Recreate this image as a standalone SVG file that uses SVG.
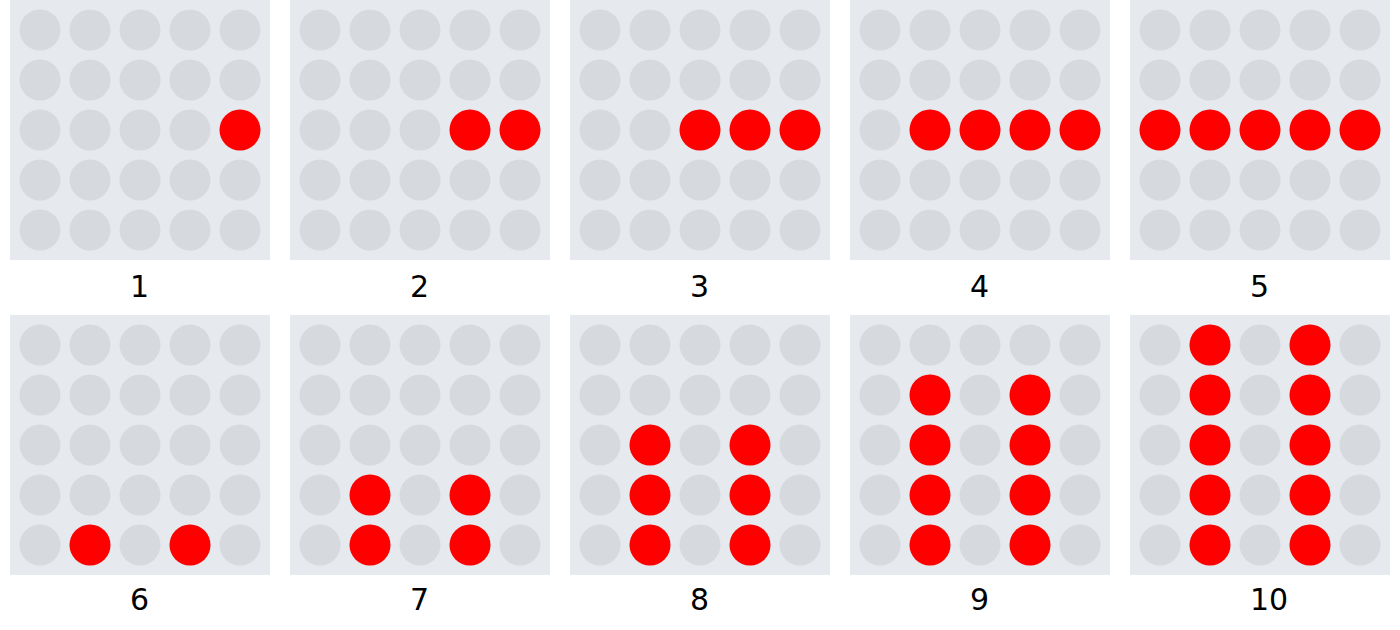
<svg xmlns="http://www.w3.org/2000/svg" width="1400" height="630" viewBox="0 0 1400 630">
<style>
.bg{fill:#e6e9ee}
.d{fill:#d6d9de}
.r{fill:#ff0000}
.lb{font-family:"DejaVu Sans",sans-serif;font-size:30px;fill:#000}
</style>
<defs>
<g id="grid">
<rect class="bg" x="0" y="0" width="260" height="260"/>
<g class="d">
<circle cx="30" cy="30" r="20.5"/><circle cx="80" cy="30" r="20.5"/><circle cx="130" cy="30" r="20.5"/><circle cx="180" cy="30" r="20.5"/><circle cx="230" cy="30" r="20.5"/>
<circle cx="30" cy="80" r="20.5"/><circle cx="80" cy="80" r="20.5"/><circle cx="130" cy="80" r="20.5"/><circle cx="180" cy="80" r="20.5"/><circle cx="230" cy="80" r="20.5"/>
<circle cx="30" cy="130" r="20.5"/><circle cx="80" cy="130" r="20.5"/><circle cx="130" cy="130" r="20.5"/><circle cx="180" cy="130" r="20.5"/><circle cx="230" cy="130" r="20.5"/>
<circle cx="30" cy="180" r="20.5"/><circle cx="80" cy="180" r="20.5"/><circle cx="130" cy="180" r="20.5"/><circle cx="180" cy="180" r="20.5"/><circle cx="230" cy="180" r="20.5"/>
<circle cx="30" cy="230" r="20.5"/><circle cx="80" cy="230" r="20.5"/><circle cx="130" cy="230" r="20.5"/><circle cx="180" cy="230" r="20.5"/><circle cx="230" cy="230" r="20.5"/>
</g>
</g>
<circle id="rd" class="r" r="20.5"/>
</defs>

<g id="panel1" transform="translate(10,0)">
<use href="#grid"/>
<use href="#rd" x="230" y="130"/>
<text class="lb" x="120" y="297">1</text>
</g>
<g id="panel2" transform="translate(290,0)">
<use href="#grid"/>
<use href="#rd" x="180" y="130"/><use href="#rd" x="230" y="130"/>
<text class="lb" x="120" y="297">2</text>
</g>
<g id="panel3" transform="translate(570,0)">
<use href="#grid"/>
<use href="#rd" x="130" y="130"/><use href="#rd" x="180" y="130"/><use href="#rd" x="230" y="130"/>
<text class="lb" x="120" y="297">3</text>
</g>
<g id="panel4" transform="translate(850,0)">
<use href="#grid"/>
<use href="#rd" x="80" y="130"/><use href="#rd" x="130" y="130"/><use href="#rd" x="180" y="130"/><use href="#rd" x="230" y="130"/>
<text class="lb" x="120" y="297">4</text>
</g>
<g id="panel5" transform="translate(1130,0)">
<use href="#grid"/>
<use href="#rd" x="30" y="130"/><use href="#rd" x="80" y="130"/><use href="#rd" x="130" y="130"/><use href="#rd" x="180" y="130"/><use href="#rd" x="230" y="130"/>
<text class="lb" x="120" y="297">5</text>
</g>

<g id="panel6" transform="translate(10,315)">
<use href="#grid"/>
<use href="#rd" x="80" y="230"/><use href="#rd" x="180" y="230"/>
<text class="lb" x="120" y="295">6</text>
</g>
<g id="panel7" transform="translate(290,315)">
<use href="#grid"/>
<use href="#rd" x="80" y="180"/><use href="#rd" x="180" y="180"/>
<use href="#rd" x="80" y="230"/><use href="#rd" x="180" y="230"/>
<text class="lb" x="120" y="295">7</text>
</g>
<g id="panel8" transform="translate(570,315)">
<use href="#grid"/>
<use href="#rd" x="80" y="130"/><use href="#rd" x="180" y="130"/>
<use href="#rd" x="80" y="180"/><use href="#rd" x="180" y="180"/>
<use href="#rd" x="80" y="230"/><use href="#rd" x="180" y="230"/>
<text class="lb" x="120" y="295">8</text>
</g>
<g id="panel9" transform="translate(850,315)">
<use href="#grid"/>
<use href="#rd" x="80" y="80"/><use href="#rd" x="180" y="80"/>
<use href="#rd" x="80" y="130"/><use href="#rd" x="180" y="130"/>
<use href="#rd" x="80" y="180"/><use href="#rd" x="180" y="180"/>
<use href="#rd" x="80" y="230"/><use href="#rd" x="180" y="230"/>
<text class="lb" x="120" y="295">9</text>
</g>
<g id="panel10" transform="translate(1130,315)">
<use href="#grid"/>
<use href="#rd" x="80" y="30"/><use href="#rd" x="180" y="30"/>
<use href="#rd" x="80" y="80"/><use href="#rd" x="180" y="80"/>
<use href="#rd" x="80" y="130"/><use href="#rd" x="180" y="130"/>
<use href="#rd" x="80" y="180"/><use href="#rd" x="180" y="180"/>
<use href="#rd" x="80" y="230"/><use href="#rd" x="180" y="230"/>
<text class="lb" x="120" y="295">10</text>
</g>
</svg>
